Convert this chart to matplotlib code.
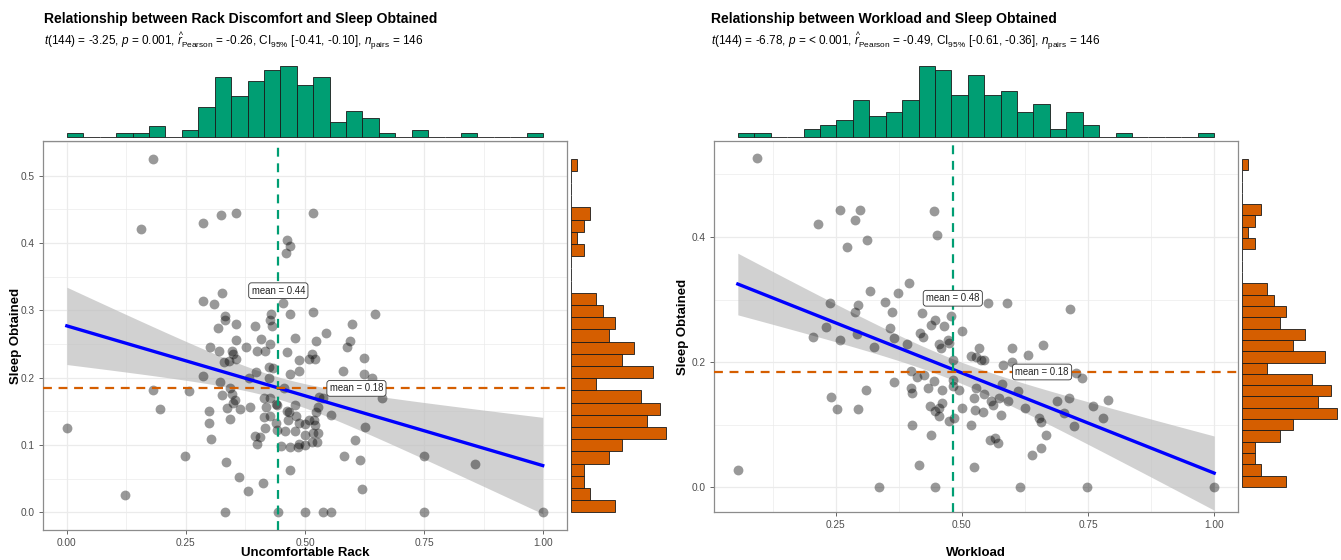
import numpy as np
import matplotlib
matplotlib.use("Agg")
import matplotlib.pyplot as plt
from matplotlib.ticker import MultipleLocator

plt.rcParams['font.family'] = ['Liberation Sans', 'DejaVu Sans']
plt.rcParams['mathtext.fontset'] = 'custom'
plt.rcParams['mathtext.rm'] = 'Liberation Sans'
plt.rcParams['mathtext.it'] = 'Liberation Sans:italic'
plt.rcParams['mathtext.bf'] = 'Liberation Sans:bold'

# ---------------- data ----------------
rack_x = [0.180, 0.156, 0.285, 0.324, 0.356, 0.516, 0.462, 0.469, 0.460, 0.285,
          0.309, 0.325, 0.453, 0.516, 0.333, 0.333, 0.356, 0.429, 0.469, 0.317,
          0.394, 0.427, 0.431, 0.356, 0.408, 0.480, 0.524, 0.545, 0.300, 0.376,
          0.427, 0.646, 0.599, 0.594, 0.588, 0.320, 0.399, 0.416, 0.346, 0.349,
          0.340, 0.331, 0.355, 0.462, 0.488, 0.508, 0.515, 0.522, 0.580, 0.624,
          0.623, 0.640, 0.432, 0.397, 0.382, 0.424, 0.469, 0.488, 0.286, 0.321,
          0.343, 0.347, 0.325, 0.257, 0.180, 0.195, 0.353, 0.337, 0.364, 0.385,
          0.413, 0.427, 0.439, 0.418, 0.478, 0.462, 0.524, 0.537, 0.555, 0.481,
          0.519, 0.499, 0.413, 0.299, 0.299, 0.343, 0.625, 0.000, 0.248, 0.122,
          0.303, 0.334, 0.333, 0.361, 0.380, 0.411, 0.468, 0.450, 0.399, 0.394,
          0.406, 0.416, 0.441, 0.457, 0.480, 0.443, 0.499, 0.538, 0.555, 0.749,
          0.999, 0.749, 0.857, 0.620, 0.582, 0.615, 0.606, 0.662, 0.530, 0.427,
          0.439, 0.464, 0.466, 0.487, 0.500, 0.488, 0.485, 0.499, 0.509, 0.520,
          0.516, 0.527, 0.527, 0.515, 0.526, 0.348, 0.468, 0.441, 0.425, 0.455]
rack_y = [0.525, 0.421, 0.429, 0.441, 0.445, 0.445, 0.404, 0.395, 0.385, 0.314,
          0.310, 0.326, 0.311, 0.297, 0.292, 0.286, 0.280, 0.295, 0.294, 0.273,
          0.277, 0.286, 0.277, 0.256, 0.258, 0.259, 0.254, 0.266, 0.246, 0.246,
          0.250, 0.294, 0.280, 0.254, 0.245, 0.240, 0.240, 0.240, 0.239, 0.235,
          0.224, 0.223, 0.228, 0.238, 0.226, 0.227, 0.235, 0.227, 0.210, 0.229,
          0.205, 0.200, 0.214, 0.208, 0.200, 0.200, 0.205, 0.210, 0.203, 0.194,
          0.185, 0.176, 0.174, 0.180, 0.182, 0.153, 0.166, 0.155, 0.154, 0.156,
          0.170, 0.170, 0.161, 0.157, 0.159, 0.150, 0.149, 0.169, 0.145, 0.143,
          0.137, 0.131, 0.142, 0.150, 0.133, 0.139, 0.127, 0.125, 0.083, 0.025,
          0.109, 0.075, 0.000, 0.052, 0.032, 0.044, 0.063, 0.099, 0.101, 0.114,
          0.112, 0.125, 0.122, 0.121, 0.121, 0.000, 0.000, 0.000, 0.000, 0.000,
          0.000, 0.083, 0.071, 0.034, 0.083, 0.077, 0.107, 0.169, 0.171, 0.143,
          0.133, 0.137, 0.149, 0.132, 0.115, 0.102, 0.097, 0.100, 0.137, 0.129,
          0.117, 0.118, 0.156, 0.104, 0.105, 0.163, 0.097, 0.160, 0.216, 0.185]

work_x = [0.095, 0.056, 0.258, 0.299, 0.289, 0.215, 0.444, 0.450, 0.312, 0.272,
          0.395, 0.317, 0.374, 0.238, 0.294, 0.348, 0.288, 0.362, 0.421, 0.447,
          0.478, 0.551, 0.589, 0.714, 0.438, 0.464, 0.501, 0.230, 0.204, 0.258,
          0.293, 0.326, 0.358, 0.366, 0.391, 0.417, 0.422, 0.455, 0.472, 0.458,
          0.475, 0.483, 0.534, 0.518, 0.528, 0.538, 0.543, 0.600, 0.660, 0.632,
          0.600, 0.581, 0.726, 0.739, 0.399, 0.411, 0.424, 0.445, 0.483, 0.366,
          0.311, 0.399, 0.402, 0.432, 0.460, 0.483, 0.495, 0.528, 0.543, 0.579,
          0.611, 0.574, 0.524, 0.558, 0.592, 0.561, 0.688, 0.713, 0.625, 0.702,
          0.652, 0.657, 0.722, 0.667, 0.657, 0.638, 0.577, 0.541, 0.527, 0.501,
          0.518, 0.475, 0.485, 0.454, 0.446, 0.455, 0.437, 0.460, 0.402, 0.438,
          0.556, 0.565, 0.572, 0.524, 0.415, 0.336, 0.446, 0.616, 0.748, 1.000,
          0.241, 0.253, 0.294, 0.760, 0.780, 0.790]
work_y = [0.526, 0.027, 0.444, 0.444, 0.428, 0.421, 0.442, 0.403, 0.395, 0.384,
          0.326, 0.314, 0.311, 0.294, 0.292, 0.296, 0.280, 0.280, 0.278, 0.267,
          0.274, 0.294, 0.294, 0.285, 0.259, 0.258, 0.250, 0.256, 0.240, 0.236,
          0.245, 0.224, 0.254, 0.238, 0.229, 0.246, 0.240, 0.229, 0.235, 0.222,
          0.230, 0.203, 0.222, 0.210, 0.208, 0.204, 0.203, 0.222, 0.227, 0.211,
          0.200, 0.195, 0.183, 0.174, 0.186, 0.176, 0.179, 0.170, 0.171, 0.168,
          0.155, 0.158, 0.150, 0.158, 0.156, 0.162, 0.155, 0.158, 0.149, 0.165,
          0.154, 0.143, 0.143, 0.138, 0.138, 0.131, 0.138, 0.143, 0.126, 0.119,
          0.110, 0.104, 0.098, 0.083, 0.063, 0.052, 0.115, 0.120, 0.123, 0.126,
          0.100, 0.106, 0.110, 0.114, 0.122, 0.127, 0.130, 0.134, 0.100, 0.083,
          0.075, 0.078, 0.071, 0.032, 0.035, 0.000, 0.000, 0.000, 0.000, 0.000,
          0.144, 0.125, 0.125, 0.130, 0.110, 0.140]

# marginal histogram counts (29 bins spanning min..max of each variable)
rack_hist = [1, 0, 0, 1, 1, 3, 0, 2, 8, 16, 11, 15, 18, 19, 14, 16, 4, 7, 5, 1,
             0, 2, 0, 0, 1, 0, 0, 0, 1]
work_hist = [1, 1, 0, 0, 2, 3, 4, 9, 5, 6, 9, 17, 16, 10, 15, 10, 11, 6, 8, 2,
             6, 3, 0, 1, 0, 0, 0, 0, 1]
sleep_hist = [7, 3, 2, 2, 6, 8, 15, 12, 14, 11, 4, 13, 8, 10, 6, 7, 5, 4, 0, 0,
              0, 2, 1, 2, 3, 0, 0, 0, 1]
rack_range = (0.0, 1.0)
work_range = (0.056, 1.0)
sleep_range = (0.0, 0.525)

rack_mean = 0.444
work_mean = 0.482
sleep_mean = 0.184

titles = ["Relationship between Rack Discomfort and Sleep Obtained",
          "Relationship between Workload and Sleep Obtained"]
subtitles = [
    r"$\it{t}$(144) = -3.25, $\it{p}$ = 0.001, $\widehat{\it{r}}_{\mathrm{Pearson}}$ = -0.26, CI$_{95\%}$ [-0.41, -0.10], $\it{n}_{\mathrm{pairs}}$ = 146",
    r"$\it{t}$(144) = -6.78, $\it{p}$ = < 0.001, $\widehat{\it{r}}_{\mathrm{Pearson}}$ = -0.49, CI$_{95\%}$ [-0.61, -0.36], $\it{n}_{\mathrm{pairs}}$ = 146",
]
xlabels = ["Uncomfortable Rack", "Workload"]
ylabel = "Sleep Obtained"

# ---------------- style ----------------
XFILL = "#009E73"
YFILL = "#D55E00"
GRID = "#EBEBEB"
BORDER = "#8C8C8C"
TXT = "#4D4D4D"
W, H = 1341, 560
T_CRIT = 1.9766

fig = plt.figure(figsize=(W / 100, H / 100), dpi=100)


def add_ax(l, t, r, b):
    return fig.add_axes([l / W, 1 - b / H, (r - l) / W, (b - t) / H])


def panel(box, xs, ys, xhist, xrange_, xmean, xlim, ylim, xmaj, ymaj,
          title, subtitle, xlabel, mean_pos, hist_top, xlab_y, title_x,
          ylab_x, rh_right, xh_max, yh_max):
    l, t, r, b = box
    ax = add_ax(l, t, r, b)
    xs = np.asarray(xs)
    ys = np.asarray(ys)
    ax.set_xlim(*xlim)
    ax.set_ylim(*ylim)
    ax.xaxis.set_major_locator(MultipleLocator(xmaj))
    ax.xaxis.set_minor_locator(MultipleLocator(xmaj / 2))
    ax.yaxis.set_major_locator(MultipleLocator(ymaj))
    ax.yaxis.set_minor_locator(MultipleLocator(ymaj / 2))
    ax.grid(True, which='major', color=GRID, lw=0.9, zorder=0)
    ax.grid(True, which='minor', color=GRID, lw=0.5, zorder=0)
    ax.set_axisbelow(True)
    for s in ax.spines.values():
        s.set_color(BORDER)
        s.set_linewidth(0.9)
    ax.tick_params(which='major', length=3, width=0.6, color=TXT,
                   labelsize=7.3, labelcolor=TXT, pad=3)
    ax.tick_params(which='minor', length=0)
    ax.xaxis.set_major_formatter(plt.FuncFormatter(
        lambda v, p: f"{v:.2f}"))
    ax.yaxis.set_major_formatter(plt.FuncFormatter(
        lambda v, p: f"{v:.1f}"))

    # regression + CI
    n = len(xs)
    xbar, ybar = xs.mean(), ys.mean()
    sxx = np.sum((xs - xbar) ** 2)
    slope = np.sum((xs - xbar) * (ys - ybar)) / sxx
    inter = ybar - slope * xbar
    resid = ys - (inter + slope * xs)
    s = np.sqrt(np.sum(resid ** 2) / (n - 2))
    gx = np.linspace(xs.min(), xs.max(), 200)
    gy = inter + slope * gx
    se = s * np.sqrt(1 / n + (gx - xbar) ** 2 / sxx)
    ax.fill_between(gx, gy - T_CRIT * se, gy + T_CRIT * se,
                    color="#BEBEBE", alpha=0.7, lw=0, zorder=2)

    ax.scatter(xs, ys, s=50, color='black', alpha=0.4, lw=0, zorder=3)
    ax.plot(gx, gy, color='#0000FF', lw=2.4, zorder=4)

    ax.axvline(xmean, color=XFILL, ls=(0, (4, 3)), lw=1.6, zorder=5)
    ax.axhline(sleep_mean, color=YFILL, ls=(0, (4, 3)), lw=1.6, zorder=5)
    bb = dict(boxstyle='round,pad=0.3,rounding_size=0.3', fc='white',
              ec='#333333', lw=0.6)
    ax.text(xmean, mean_pos[0], f"mean = {xmean:.2f}", ha='center',
            va='center', fontsize=6.9, color='#222222', bbox=bb, zorder=6)
    ax.text(mean_pos[1], sleep_mean, f"mean = {sleep_mean:.2f}",
            ha='center', va='center', fontsize=6.9, color='#222222',
            bbox=bb, zorder=6)

    fig.text((l + r) / 2 / W, 1 - xlab_y / H, xlabel, fontsize=9.5,
             fontweight='bold', ha='center', va='center')
    fig.text(ylab_x / W, 1 - (t + b) / 2 / H, ylabel, fontsize=9.5,
             fontweight='bold', ha='center', va='center', rotation=90)

    # top marginal histogram
    axt = add_ax(l, hist_top, r, 137)
    nb = len(xhist)
    edges = np.linspace(xrange_[0], xrange_[1], nb + 1)
    axt.bar(edges[:-1], xhist, width=np.diff(edges), align='edge',
            color=XFILL, edgecolor='#1a1a1a', lw=0.6, clip_on=False)
    axt.set_xlim(*xlim)
    axt.set_ylim(0, xh_max)
    axt.axis('off')

    # right marginal histogram
    axr = add_ax(r + 4, t, rh_right, b)
    nb = len(sleep_hist)
    edges = np.linspace(sleep_range[0], sleep_range[1], nb + 1)
    axr.barh(edges[:-1], sleep_hist, height=np.diff(edges), align='edge',
             color=YFILL, edgecolor='#1a1a1a', lw=0.6, clip_on=False)
    axr.set_ylim(*ylim)
    axr.set_xlim(0, yh_max)
    axr.axis('off')

    fig.text(title_x / W, 1 - 19 / H, title, fontsize=10.1,
             fontweight='bold', ha='left', va='center')
    fig.text(title_x / W, 1 - 41 / H, subtitle, fontsize=8.5,
             ha='left', va='center')


panel((43, 141, 567, 530), rack_x, rack_y, rack_hist, rack_range, rack_mean,
      (-0.05, 1.05), (-0.0263, 0.5513), 0.25, 0.1,
      titles[0], subtitles[0], xlabels[0], (0.329, 0.608), 62, 553, 44, 16,
      671, 20.1, 15.8)

panel((714, 141, 1238, 512), work_x, work_y, work_hist, work_range, work_mean,
      (0.0088, 1.0472), (-0.040, 0.5536), 0.25, 0.2,
      titles[1], subtitles[1], xlabels[1], (0.302, 0.659), 62, 553, 711, 683,
      1341, 18.0, 15.6)

fig.savefig("out.png", dpi=100, facecolor='white')
